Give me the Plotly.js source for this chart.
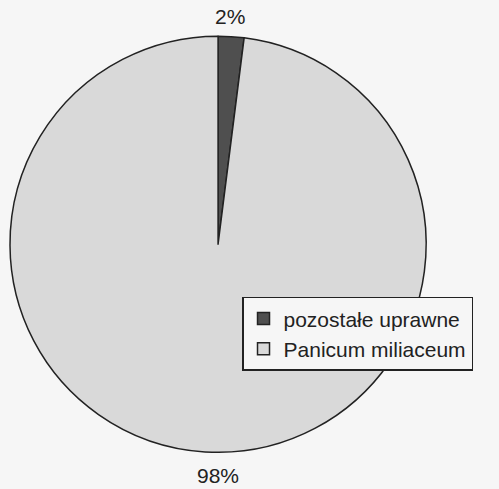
<!DOCTYPE html>
<html>
<head>
<meta charset="utf-8">
<script src="https://cdn.plot.ly/plotly-3.0.1.min.js"></script>
<style>html,body{margin:0;padding:0;background:#f6f6f6;}</style>
</head>
<body>
<div id="chart" style="width:499px;height:489px;"></div>
<script>
const labels = ["pozostałe uprawne", "Panicum miliaceum"];
const values = [2, 98];
const colors = ["#4f4f4f", "#d9d9d9"];

const total = values.reduce((a, b) => a + b, 0);
const pctText = values.map(v => Math.round(v / total * 100) + "%");
const labelPos = [[0.461, 0.967, "middle"], [0.437, 0.0, "bottom"]];

const data = [{
  type: "pie",
  labels: labels,
  values: values,
  sort: false,
  direction: "clockwise",
  rotation: 0,
  marker: {colors: colors, line: {color: "#222222", width: 1.5}},
  textinfo: "none",
  hoverinfo: "none",
  domain: {x: [0.02, 0.854], y: [0.075, 0.926]}
}];

const annotations = pctText.map((t, i) => ({
  text: t, xref: "paper", yref: "paper",
  x: labelPos[i][0], y: labelPos[i][1],
  xanchor: "center", yanchor: labelPos[i][2], showarrow: false,
  font: {family: "Liberation Sans, Arial, sans-serif", size: 21, color: "#222222"}
}));

const layout = {
  width: 499,
  height: 489,
  margin: {l: 0, r: 0, t: 0, b: 0},
  paper_bgcolor: "#f6f6f6",
  showlegend: true,
  annotations: annotations,
  legend: {
    x: 0.485, y: 0.393, xanchor: "left", yanchor: "top",
    bgcolor: "#f6f6f6", bordercolor: "#222222", borderwidth: 1.5,
    font: {family: "Liberation Sans, Arial, sans-serif", size: 21, color: "#222222"},
    traceorder: "normal",
    itemwidth: 30,
    entrywidth: 300
  }
};

Plotly.newPlot("chart", data, layout, {displayModeBar: false, staticPlot: true});
</script>
</body>
</html>
